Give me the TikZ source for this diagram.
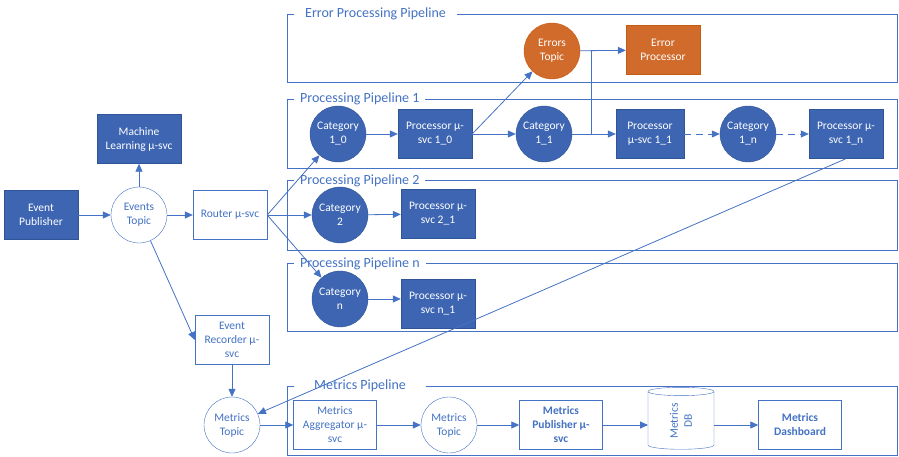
\documentclass[tikz,border=0pt]{standalone}
\usepackage{fontspec}
\setmainfont{Carlito}
\usepackage{tikz}
\usetikzlibrary{shapes.geometric}
\usetikzlibrary{arrows.meta}
\usepackage{xcolor}
\definecolor{lineblue}{RGB}{68,114,196}
\definecolor{fillblue}{RGB}{61,101,178}
\definecolor{edgeblue}{RGB}{47,85,151}
\definecolor{fillorange}{RGB}{208,107,44}
\definecolor{edgeorange}{RGB}{197,90,17}

\begin{document}
\begin{tikzpicture}[x=1pt,y=-1pt,
  every node/.style={font=\fontsize{11.5}{14}\selectfont,align=center},
  bluebox/.style={draw=edgeblue,fill=fillblue,text=white,minimum width=74,minimum height=49,inner sep=1pt},
  bluecirc/.style={circle,draw=edgeblue,fill=fillblue,text=white,minimum size=56,inner sep=0pt},
  whitebox/.style={draw=lineblue,fill=white,text=lineblue,minimum width=74,minimum height=49,inner sep=1pt},
  whitecirc/.style={circle,draw=lineblue,fill=white,text=lineblue,minimum size=56,inner sep=0pt},
  orangebox/.style={draw=edgeorange,fill=fillorange,text=white,minimum width=74,minimum height=49,inner sep=1pt},
  orangecirc/.style={circle,draw=edgeorange,fill=fillorange,text=white,minimum size=56,inner sep=0pt},
  frame/.style={draw=lineblue,line width=0.8pt},
  title/.style={fill=white,text=lineblue,anchor=west,inner xsep=6pt,font=\fontsize{14}{16}\selectfont},
  arr/.style={draw=lineblue,line width=0.8pt,-{Triangle[length=8pt,width=7pt]}},
  conn/.style={draw=lineblue,line width=0.8pt}]
\useasboundingbox (0,0) rectangle (899,457);

% pipelines
\draw[frame] (287,14) rectangle (897,82);
\draw[frame] (287,99) rectangle (897,168);
\draw[frame] (287,180) rectangle (897,250);
\draw[frame] (287,263) rectangle (897,331);
\draw[frame] (287,386) rectangle (897,455);
\node[title,inner xsep=11pt] (terr) at (294,14) {Error Processing Pipeline};
\node[title] (tpp1) at (294,99) {Processing Pipeline 1};
\node[title] (tpp2) at (294,181) {Processing Pipeline 2};
\node[title] (tppn) at (294,264) {Processing Pipeline n};
\node[title,inner xsep=20pt] (tmet) at (294,386) {Metrics Pipeline};

% nodes
\node[bluebox] (pub) at (41,215) {Event\\Publisher};
\node[bluebox,minimum width=84] (ml) at (139,139) {Machine\\Learning µ-svc};
\node[whitecirc] (evt) at (139,215) {Events\\Topic};
\node[whitebox] (rt) at (230,215) {Router µ-svc};
\node[whitebox] (rec) at (232,340) {Event\\Recorder µ-\\svc};

\node[bluecirc] (c10) at (338,134) {Category\\1\_0};
\node[bluebox] (p10) at (435,134) {Processor µ-\\svc 1\_0};
\node[bluecirc] (c11) at (544,134) {Category\\1\_1};
\node[bluebox,minimum width=68] (p11) at (650,134) {Processor\\µ-svc 1\_1};
\node[bluecirc] (c1n) at (748,134) {Category\\1\_n};
\node[bluebox] (p1n) at (846,134) {Processor µ-\\svc 1\_n};

\node[orangecirc] (errt) at (552,51) {Errors\\Topic};
\node[orangebox] (errp) at (663,50) {Error\\Processor};

\node[bluecirc] (c2) at (340,215) {Category\\2};
\node[bluebox] (p21) at (438,214) {Processor µ-\\svc 2\_1};
\node[bluecirc] (cn) at (340,299) {Category\\n};
\node[bluebox] (pn1) at (438,304) {Processor µ-\\svc n\_1};

\node[whitecirc] (mt1) at (232,425) {Metrics\\Topic};
\node[whitebox,minimum width=83] (agg) at (335,425) {Metrics\\Aggregator µ-\\svc};
\node[whitecirc] (mt2) at (449,425) {Metrics\\Topic};
\node[whitebox,minimum width=83] (pubm) at (561,425) {\textbf{Metrics}\\\textbf{Publisher µ-}\\\textbf{svc}};
\node[cylinder,draw=lineblue,fill=white,text=lineblue,rotate=90,aspect=0.35,
  minimum width=66,minimum height=62,inner sep=1pt] (db) at (681,421) {Metrics\\DB};
\node[whitebox,minimum width=83] (dash) at (800,425) {\textbf{Metrics}\\\textbf{Dashboard}};

% connectors
\coordinate (jn) at (591,134);
\coordinate (dbin) at (648,425);
\coordinate (dbout) at (714,425);
\draw[arr] (pub) -- (evt);
\draw[arr] (evt) -- (ml);
\draw[arr] (evt) -- (rt);
\draw[arr] (evt) -- (rec.west);
\draw[arr] (rt.east) -- (c10);
\draw[arr] (rt.east) -- (c2);
\draw[arr] (rt.east) -- (cn);
\draw[arr] (c10) -- (p10);
\draw[arr] (p10.east) -- (errt);
\draw[arr] (p10) -- (c11);
\draw[arr] (c11) -- (p11);
\draw[conn] (c11.east) -- (jn) -- (jn |- errp.west);
\draw[arr] (errt) -- (errp);
\draw[arr,dashed,dash pattern=on 7pt off 5pt] (p11) -- (c1n);
\draw[arr,dashed,dash pattern=on 7pt off 5pt] (c1n) -- (p1n);
\draw[arr] (c2) -- (p21);
\draw[arr] (cn.east) -- (cn.east -| pn1.west);
\draw[arr] (p1n.south) -- (mt1);
\draw[arr] (rec) -- (mt1);
\draw[arr] (mt1) -- (agg);
\draw[arr] (agg) -- (mt2);
\draw[arr] (mt2) -- (pubm);
\draw[arr] (pubm) -- (dbin);
\draw[arr] (dbout) -- (dash);

\end{tikzpicture}
\end{document}
